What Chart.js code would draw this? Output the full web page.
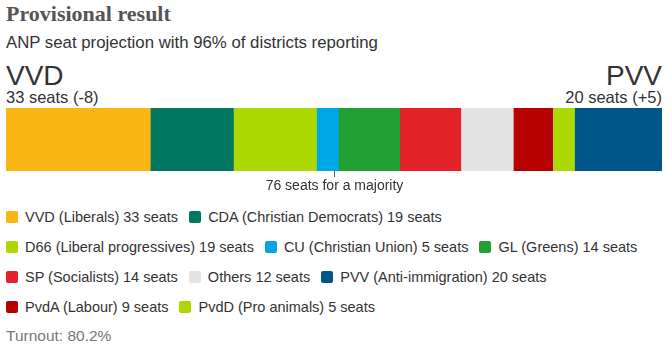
<!DOCTYPE html>
<html>
<head>
<meta charset="utf-8">
<script src="https://cdn.jsdelivr.net/npm/chart.js@4.4.1/dist/chart.umd.min.js"></script>
<style>
  body { margin: 0; width: 672px; height: 352px; background: #fff; font-family: Arial, "Liberation Sans", sans-serif; color: #333; position: relative; overflow: hidden; }
  .abs { position: absolute; white-space: nowrap; }
  #title { left: 6px; top: 1px; font-family: "Liberation Serif", serif; font-weight: bold; font-size: 22px; color: #555; line-height: 26px; }
  #subtitle { left: 6px; top: 33px; font-size: 16.8px; line-height: 20px; }
  .big { font-size: 28px; line-height: 30px; top: 61px; color: #333; }
  .sub { font-size: 16.5px; line-height: 18px; top: 88px; }
  #leftName, #leftSeats { left: 6px; }
  #rightName, #rightSeats { right: 10px; text-align: right; }
  #chartWrap { position: absolute; left: 0; top: 104px; width: 672px; height: 90px; }
  #legend { position: absolute; left: 6px; top: 207px; width: 660px; font-size: 14.5px; }
  .row { height: 30px; line-height: 20px; }
  .item { display: inline-block; margin-right: 11px; }
  .sw { display: inline-block; width: 12px; height: 12px; border-radius: 2px; margin-right: 7px; vertical-align: -1px; }
  #turnout { left: 6px; top: 326px; font-size: 15.5px; color: #777; line-height: 20px; }
</style>
</head>
<body>
<div id="title" class="abs">Provisional result</div>
<div id="subtitle" class="abs">ANP seat projection with 96% of districts reporting</div>
<div id="leftName" class="abs big"></div>
<div id="leftSeats" class="abs sub"></div>
<div id="rightName" class="abs big"></div>
<div id="rightSeats" class="abs sub"></div>
<div id="chartWrap"><canvas id="seats"></canvas></div>
<div id="legend"></div>
<div id="turnout" class="abs">Turnout: 80.2%</div>

<script>
// parties in the order they sit on the bar
var parties = ['VVD', 'CDA', 'D66', 'CU', 'GL', 'SP', 'Others', 'PvdA', 'PvdD', 'PVV'];
var descriptions = ['Liberals', 'Christian Democrats', 'Liberal progressives', 'Christian Union', 'Greens', 'Socialists', '', 'Labour', 'Pro animals', 'Anti-immigration'];
var seats = [33, 19, 19, 5, 14, 14, 12, 9, 5, 20];
var colours = ['#fbb515', '#00775e', '#acd804', '#00a7e7', '#22a032', '#e3232a', '#e3e3e3', '#b70000', '#acd804', '#00558a'];
var changes = ['-8', '', '', '', '', '', '', '', '', '+5'];
var legendOrder = [0, 1, 2, 3, 4, 5, 6, 9, 7, 8];
var legendBreaks = [1, 4, 7]; // new row after these legend positions
var totalSeats = 150;
var majority = 76;

function seatText(i) {
    return seats[i] + ' seats';
}

// header labels for the two ends of the bar
var last = parties.length - 1;
document.getElementById('leftName').textContent = parties[0];
document.getElementById('leftSeats').textContent = seatText(0) + ' (' + changes[0] + ')';
document.getElementById('rightName').textContent = parties[last];
document.getElementById('rightSeats').textContent = seatText(last) + ' (' + changes[last] + ')';

// legend
var legend = document.getElementById('legend');
var row = document.createElement('div');
row.className = 'row';
legend.appendChild(row);
legendOrder.forEach(function (idx, pos) {
    var item = document.createElement('span');
    item.className = 'item';
    var sw = document.createElement('span');
    sw.className = 'sw';
    sw.style.background = colours[idx];
    item.appendChild(sw);
    var label = parties[idx] + (descriptions[idx] ? ' (' + descriptions[idx] + ')' : '') + ' ' + seatText(idx);
    item.appendChild(document.createTextNode(label));
    row.appendChild(item);
    if (legendBreaks.indexOf(pos) !== -1) {
        row = document.createElement('div');
        row.className = 'row';
        legend.appendChild(row);
    }
});

// tick + label for the majority line
var majorityPlugin = {
    id: 'majority',
    afterDatasetsDraw: function (chart) {
        var ctx = chart.ctx;
        var x = Math.round(chart.scales.x.getPixelForValue(majority - 1)) + 0.5;
        var bottom = chart.chartArea.bottom;
        ctx.save();
        ctx.strokeStyle = '#555';
        ctx.lineWidth = 1;
        ctx.beginPath();
        ctx.moveTo(x, bottom);
        ctx.lineTo(x, bottom + 6);
        ctx.stroke();
        ctx.fillStyle = '#333';
        ctx.font = '14px Arial, "Liberation Sans", sans-serif';
        ctx.textAlign = 'center';
        ctx.textBaseline = 'middle';
        ctx.fillText(majority + ' seats for a majority', x, bottom + 15);
        ctx.restore();
    }
};

var datasets = parties.map(function (p, i) {
    return {
        label: p,
        data: [seats[i]],
        backgroundColor: colours[i],
        borderWidth: 0,
        barPercentage: 1,
        categoryPercentage: 1
    };
});

var ctx = document.getElementById('seats').getContext('2d');
new Chart(ctx, {
    type: 'bar',
    data: { labels: ['Seats'], datasets: datasets },
    options: {
        indexAxis: 'y',
        responsive: true,
        maintainAspectRatio: false,
        animation: false,
        layout: { padding: { left: 6, right: 10, top: 4, bottom: 23 } },
        plugins: { legend: { display: false }, tooltip: { enabled: false } },
        scales: {
            x: { stacked: true, min: 0, max: totalSeats, display: false },
            y: { stacked: true, display: false }
        }
    },
    plugins: [majorityPlugin]
});
</script>
</body>
</html>
